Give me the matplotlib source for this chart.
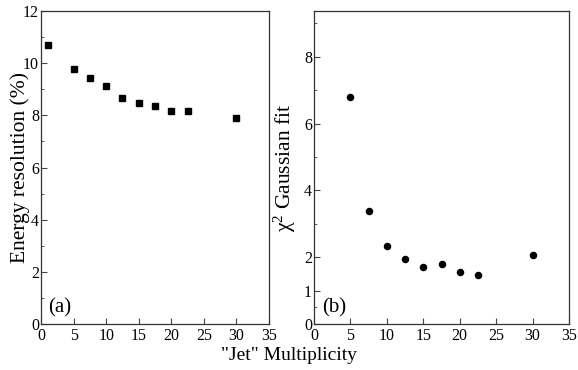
import matplotlib
matplotlib.use("Agg")
import matplotlib.pyplot as plt
from matplotlib.ticker import MultipleLocator, FixedLocator

plt.rcParams['font.family'] = ['Liberation Serif', 'DejaVu Serif']
plt.rcParams['mathtext.fontset'] = 'custom'
plt.rcParams['mathtext.rm'] = 'Liberation Serif'
plt.rcParams['mathtext.it'] = 'Liberation Serif:italic'

# Data
mult_a = [1, 5, 7.5, 10, 12.5, 15, 17.5, 20, 22.5, 30]
resolution = [10.69, 9.78, 9.44, 9.13, 8.67, 8.47, 8.36, 8.17, 8.18, 7.90]
mult_b = [5, 7.5, 10, 12.5, 15, 17.5, 20, 22.5, 30]
chi2 = [6.80, 3.39, 2.33, 1.95, 1.72, 1.81, 1.56, 1.48, 2.07]

xticks = [0, 5, 10, 15, 20, 25, 30, 35]
yticks_a = [0, 2, 4, 6, 8, 10, 12]
yticks_b = [0, 1, 2, 4, 6, 8]
yminor_b = [0.5, 3, 5, 7, 9]

fig = plt.figure(figsize=(5.78, 3.70), dpi=100)
ax1 = fig.add_axes([41/578, 1-324/370, (269-41)/578, (324-11)/370])
ax2 = fig.add_axes([314/578, 1-324/370, (569-314)/578, (324-11)/370])

ax1.plot(mult_a, resolution, 's', color='black', markersize=3.8)
ax2.plot(mult_b, chi2, 'o', color='black', markersize=4.4)

for ax in (ax1, ax2):
    ax.set_xlim(0, 35)
    ax.xaxis.set_major_locator(FixedLocator(xticks))
    ax.tick_params(which='both', direction='in', labelsize=11.5, pad=1.5,
                   top=False, right=False, color='#444444')
    ax.tick_params(axis='x', pad=3)
    ax.tick_params(which='major', length=4)
    ax.tick_params(which='minor', length=2.5)
    for s in ax.spines.values():
        s.set_linewidth(0.9)
        s.set_color('#333333')

ax1.set_ylim(0, 12)
ax1.yaxis.set_major_locator(FixedLocator(yticks_a))
ax1.yaxis.set_minor_locator(MultipleLocator(1))
ax1.set_ylabel('Energy resolution (%)', fontsize=15.5, labelpad=-5)
ax1.text(0.03, 0.02, '(a)', transform=ax1.transAxes, fontsize=15, ha='left', va='bottom')

ax2.set_ylim(0, 9.37)
ax2.yaxis.set_major_locator(FixedLocator(yticks_b))
ax2.yaxis.set_minor_locator(FixedLocator(yminor_b))
ax2.set_ylabel('χ$^2$ Gaussian fit', fontsize=15.5, labelpad=4)
ax2.text(0.03, 0.02, '(b)', transform=ax2.transAxes, fontsize=15, ha='left', va='bottom')

fig.text(289/578, 1-356/370, '"Jet" Multiplicity', fontsize=14, ha='center', va='center')

fig.savefig('out.png', dpi=100)
